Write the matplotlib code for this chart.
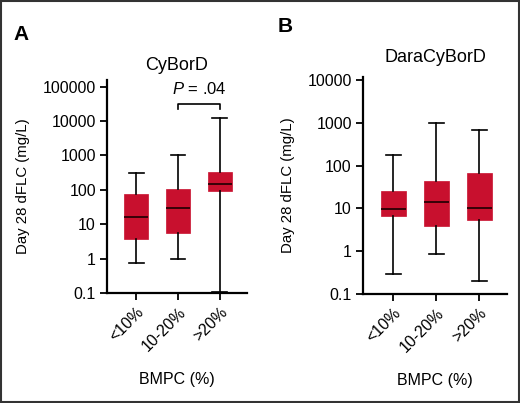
import matplotlib
matplotlib.use("Agg")
import matplotlib.pyplot as plt
from matplotlib.patches import Rectangle

categories = ["<10%", "10-20%", ">20%"]

# Panel A: CyBorD
a_whislo = [0.77, 1.0, 0.105]
a_q1 = [3.7, 5.4, 94]
a_med = [16.6, 29, 150]
a_q3 = [78, 105, 330]
a_whishi = [316, 1000, 12500]

# Panel B: DaraCyBorD
b_whislo = [0.30, 0.88, 0.20]
b_q1 = [6.6, 3.9, 5.4]
b_med = [9.6, 13.8, 10.4]
b_q3 = [26, 44, 67]
b_whishi = [175, 970, 675]

a_ticks = [0.1, 1, 10, 100, 1000, 10000, 100000]
a_ticklabels = ["0.1", "1", "10", "100", "1000", "10000", "100000"]
b_ticks = [0.1, 1, 10, 100, 1000, 10000]
b_ticklabels = ["0.1", "1", "10", "100", "1000", "10000"]

p_text = r"$P$ = .04"
RED = "#C8102E"

plt.rcParams["mathtext.fontset"] = "custom"
plt.rcParams["mathtext.it"] = "Liberation Sans:italic"
plt.rcParams["mathtext.rm"] = "Liberation Sans"

SANS = ["Liberation Sans", "DejaVu Sans"]

fig = plt.figure(figsize=(5.2, 4.03), dpi=100)
fig.patch.set_facecolor("white")
fig.add_artist(Rectangle((0.001, 0.002), 0.997, 0.995, transform=fig.transFigure,
                         fill=False, edgecolor="#333333", linewidth=1.5))


def stats(lo, q1, med, q3, hi):
    return [dict(whislo=lo[i], q1=q1[i], med=med[i], q3=q3[i], whishi=hi[i], fliers=[])
            for i in range(len(lo))]


def panel(rect, st, ticks, labels, ylim, title, title_y, letter, letter_xy, ylabel_x):
    ax = fig.add_axes(rect)
    ax.bxp(st, positions=[1, 2, 3], widths=0.58, patch_artist=True, showfliers=False,
           boxprops=dict(facecolor=RED, edgecolor=RED, linewidth=0.5),
           medianprops=dict(color="#2a0005", linewidth=1.3),
           whiskerprops=dict(color="black", linewidth=1.2),
           capprops=dict(color="black", linewidth=1.2),
           capwidths=0.35)
    ax.set_yscale("log")
    ax.set_ylim(*ylim)
    ax.set_xlim(0.3, 3.65)
    ax.set_yticks(ticks)
    ax.set_yticklabels(labels, fontsize=11.5, family=SANS)
    ax.minorticks_off()
    ax.set_xticks([1, 2, 3])
    ax.set_xticklabels(categories, rotation=45, ha="right", rotation_mode="anchor",
                       fontsize=11.5, family=SANS)
    ax.tick_params(axis="both", direction="out", length=5, width=1.3, pad=3)
    for s in ["top", "right"]:
        ax.spines[s].set_visible(False)
    for s in ["left", "bottom"]:
        ax.spines[s].set_linewidth(1.6)
    ax.set_xlabel("BMPC (%)", fontsize=11.5, family=SANS, labelpad=13)
    ax.set_ylabel("Day 28 dFLC (mg/L)", fontsize=10.8, family=SANS)
    ax.yaxis.set_label_coords(ylabel_x, 0.5)
    fig.text((rect[0] + rect[2] / 2), title_y, title, ha="center", va="center",
             fontsize=13, family=SANS)
    fig.text(letter_xy[0], letter_xy[1], letter, ha="left", va="center",
             fontsize=15, fontweight="bold", family=SANS)
    return ax


axA = panel([0.2058, 0.273, 0.269, 0.528], stats(a_whislo, a_q1, a_med, a_q3, a_whishi),
            a_ticks, a_ticklabels, (0.1, 10 ** 5.19), "CyBorD", 1 - 65 / 403,
            "A", (13 / 520, 1 - 34 / 403), -0.55)
axB = panel([0.698, 0.2705, 0.277, 0.538], stats(b_whislo, b_q1, b_med, b_q3, b_whishi),
            b_ticks, b_ticklabels, (0.1, 10 ** 4.07), "DaraCyBorD", 1 - 58 / 403,
            "B", (278 / 520, 1 - 26 / 403), -0.47)

# significance bracket in panel A
yb = 32000
yt = 23000
axA.plot([2, 2, 3, 3], [yt, yb, yb, yt], color="black", linewidth=1.2, clip_on=False)
axA.text(2.5, 88000, p_text, ha="center", va="center", fontsize=12, family=SANS)

fig.savefig("out.png", dpi=100)
